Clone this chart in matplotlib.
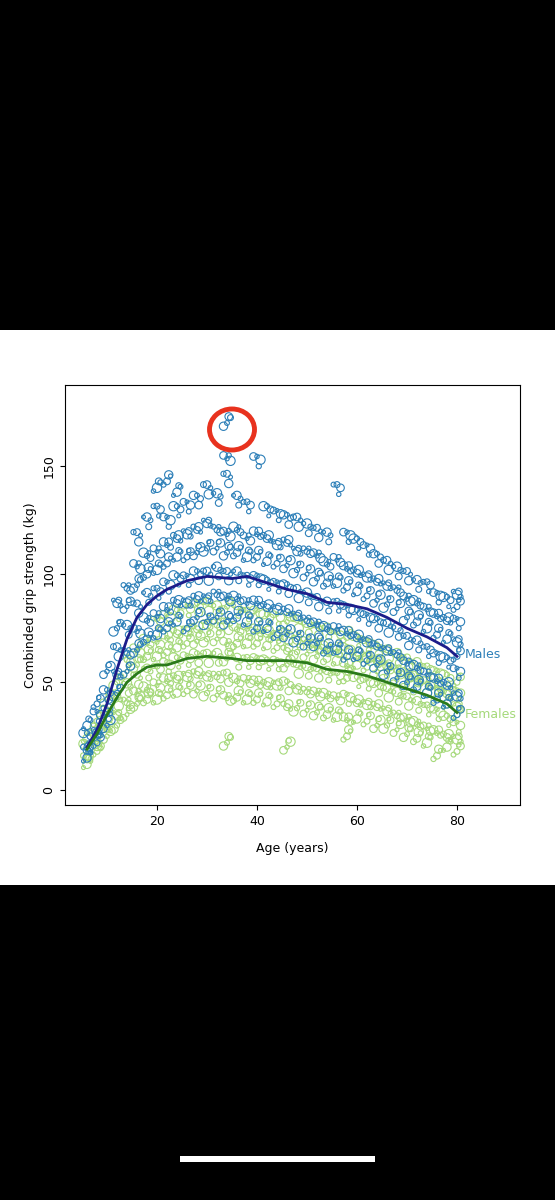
import matplotlib.pyplot as plt
from matplotlib.patches import Rectangle, Ellipse

# ages of the scatter columns and the estimated strength values at each age
ages = list(range(6, 82, 2))
male_vals = [
    [15, 20, 25, 30], [22, 28, 35, 40], [30, 38, 45, 55], [45, 55, 65, 75, 88],
    [55, 65, 75, 85, 95], [65, 75, 85, 95, 105, 118], [70, 80, 90, 100, 110, 125],
    [72, 82, 92, 102, 112, 130, 140], [75, 85, 95, 105, 115, 125, 143],
    [78, 88, 98, 108, 118, 130, 138], [75, 88, 98, 108, 120, 132],
    [80, 90, 100, 110, 122, 135], [78, 90, 100, 112, 125, 140],
    [80, 92, 102, 112, 122, 136], [78, 90, 100, 110, 120, 145, 170, 155],
    [80, 90, 100, 110, 122, 135], [78, 88, 98, 108, 118, 132],
    [75, 88, 98, 108, 120, 153], [75, 86, 96, 106, 118, 130],
    [72, 85, 95, 105, 115, 128], [72, 84, 94, 104, 116, 126],
    [70, 82, 92, 102, 112, 125], [68, 80, 90, 100, 112, 122],
    [68, 78, 88, 98, 110, 120], [65, 76, 86, 96, 106, 118],
    [65, 76, 86, 96, 108, 140], [62, 74, 84, 94, 104, 118],
    [62, 72, 82, 92, 102, 115], [60, 70, 80, 90, 100, 112],
    [58, 68, 78, 88, 98, 108], [55, 66, 76, 86, 96, 105],
    [52, 64, 74, 84, 94, 102], [50, 60, 70, 80, 90, 100],
    [48, 58, 68, 78, 88, 96], [45, 55, 65, 75, 85, 95],
    [42, 52, 62, 72, 82, 90], [40, 50, 60, 70, 80, 88],
    [35, 45, 55, 62, 70, 78, 85, 92],
]
female_vals = [
    [12, 16, 20, 24], [18, 22, 28, 32], [25, 30, 36, 42], [30, 36, 42, 50],
    [35, 42, 48, 55, 62], [40, 46, 52, 58, 66], [42, 48, 55, 62, 70],
    [42, 50, 56, 62, 70, 78], [44, 52, 58, 64, 72, 80], [45, 53, 60, 66, 74, 82],
    [46, 54, 61, 68, 75, 84], [46, 55, 62, 69, 76, 85], [45, 54, 62, 70, 78, 86],
    [44, 54, 62, 70, 78, 84], [22, 44, 53, 61, 69, 77, 85], [43, 52, 60, 68, 76, 84],
    [42, 52, 60, 68, 76, 82], [42, 51, 60, 68, 75, 82], [41, 50, 59, 67, 74, 80],
    [40, 50, 59, 66, 73, 80], [20, 40, 49, 58, 66, 72, 78], [38, 48, 57, 64, 71, 78],
    [37, 47, 56, 63, 70, 76], [36, 46, 55, 62, 68, 75], [35, 45, 54, 61, 67, 74],
    [34, 44, 53, 60, 66, 72], [25, 34, 43, 52, 59, 65, 71], [33, 42, 51, 58, 64, 70],
    [32, 41, 50, 57, 63, 68], [30, 40, 48, 55, 61, 66], [30, 38, 46, 53, 59, 64],
    [28, 36, 44, 51, 57, 62], [26, 34, 42, 49, 55, 60], [24, 32, 40, 47, 53, 58],
    [22, 30, 38, 45, 51, 56], [16, 28, 36, 43, 49, 54], [20, 26, 33, 40, 46, 52],
    [18, 25, 30, 35, 40, 45, 50],
]

# smoothed trend lines
curve_age = [6, 8, 10, 12, 14, 16, 18, 20, 22, 26, 30, 35, 38, 42, 46, 50, 54, 58, 62, 66, 70, 74, 78, 80]
male_curve = [20, 28, 40, 56, 70, 80, 86, 90, 93, 97, 99, 98, 99, 96, 93, 91, 87, 86, 84, 80, 75, 71, 66, 62]
female_curve = [19, 26, 35, 43, 50, 54, 57, 58, 58, 61, 62, 61, 60, 60, 60, 59, 56, 55, 53, 50, 47, 44, 40, 36]

fig = plt.figure(figsize=(5.55, 12), dpi=100, facecolor='black')
fig.patches.append(Rectangle((0, 0.2625), 1, 0.4625, transform=fig.transFigure,
                             facecolor='white', zorder=-5))
fig.patches.append(Rectangle((0.325, 0.032), 0.35, 0.005, transform=fig.transFigure,
                             facecolor='white', zorder=-5))

ax = fig.add_axes([65 / 555, 0.329, 455 / 555, 0.35])
ax.set_zorder(1)
sizes = [18, 30, 10, 45, 14, 24, 8, 36, 12]
shifts = [(-0.7, 1.5), (0.0, -1.5), (0.7, 2.5), (0.35, -3.0)]

for vals_list, col in [(female_vals, '#a5d97a'), (male_vals, '#2c7fb8')]:
    xs, ys, ss = [], [], []
    for a, vals in zip(ages, vals_list):
        for k, v in enumerate(vals):
            for j, (dx, dy) in enumerate(shifts):
                xs.append(a + dx)
                ys.append(v + dy * ((k + j) % 3 - 1))
                ss.append(sizes[(k * 3 + j + a) % len(sizes)])
    ax.scatter(xs, ys, s=ss, facecolors='none', edgecolors=col, linewidths=0.8)

ax.plot(curve_age, male_curve, color='#1c1c8a', lw=2)
ax.plot(curve_age, female_curve, color='#2a7a1a', lw=2)
ax.text(81.5, 63, 'Males', color='#2c7fb8', fontsize=9, va='center')
ax.text(81.5, 35, 'Females', color='#a5d97a', fontsize=9, va='center')

ax.add_patch(Ellipse((35, 167), 9, 19, fill=False, edgecolor='#e8321e', lw=3.5))

ax.set_xlim(1.6, 92.6)
ax.set_ylim(-6.9, 187.5)
ax.set_xticks([20, 40, 60, 80])
ax.set_yticks([0, 50, 100, 150])
ax.set_yticklabels(['0', '50', '100', '150'], rotation=90, va='center')
ax.tick_params(labelsize=9)
ax.set_xlabel('Age (years)', fontsize=9, labelpad=10)
ax.set_ylabel('Combinded grip strength (kg)', fontsize=9)

fig.savefig('out.png', dpi=100, facecolor='black')
